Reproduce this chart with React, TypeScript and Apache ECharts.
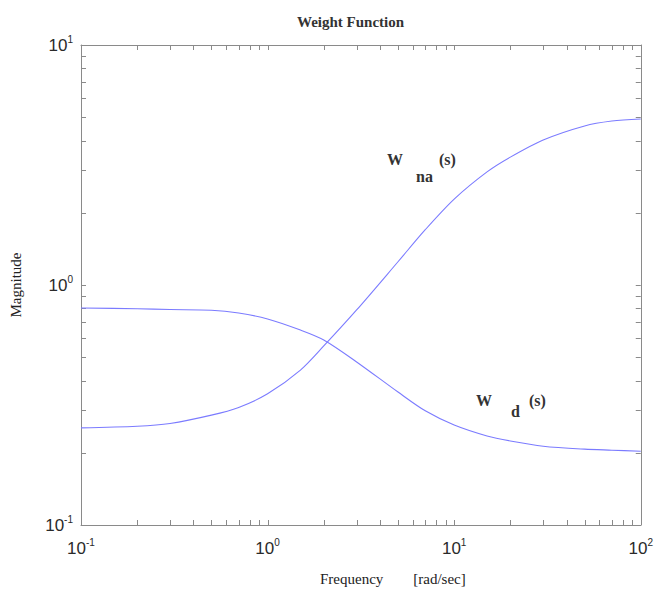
import React, { useEffect, useRef } from 'react';
import * as echarts from 'echarts';

// Frequency points (rad/sec) and magnitudes
const frequency = [0.1, 0.2, 0.3, 0.5, 0.7, 1, 1.5, 2, 3, 5, 7, 10, 15, 20, 30, 50, 70, 100];
const wNa = [0.254, 0.258, 0.265, 0.287, 0.309, 0.352, 0.442, 0.557, 0.787, 1.25, 1.7, 2.28, 2.96, 3.41, 4.02, 4.6, 4.82, 4.92];
const wD = [0.802, 0.796, 0.79, 0.785, 0.764, 0.722, 0.649, 0.59, 0.478, 0.358, 0.299, 0.261, 0.235, 0.224, 0.213, 0.207, 0.205, 0.203];

const xTicks = [0.1, 0.2, 0.3, 0.4, 0.5, 0.6, 0.7, 0.8, 0.9, 1, 2, 3, 4, 5, 6, 7, 8, 9, 10, 20, 30, 40, 50, 60, 70, 80, 90, 100];
const yTicks = [0.1, 0.2, 0.3, 0.4, 0.5, 0.6, 0.7, 0.8, 0.9, 1, 2, 3, 4, 5, 6, 7, 8, 9, 10];

const AXIS_COLOR = '#8a8a8a';
const LINE_COLOR = '#7b7bff';
const SERIF = '"Liberation Serif", "Times New Roman", serif';
const SANS = '"Liberation Sans", Arial, sans-serif';
const TICK_LEN = 5;

const labelRich = {
  b: { fontSize: 17, fontFamily: SANS, color: '#2a2a2a', lineHeight: 22 },
  sup: { fontSize: 10, fontFamily: SANS, color: '#2a2a2a', verticalAlign: 'top', lineHeight: 12 },
};

const fmtPow = (v: number) => `{b|10}{sup|${Math.round(Math.log10(v))}}`;

export default function App() {
  const ref = useRef<HTMLDivElement>(null);

  useEffect(() => {
    if (!ref.current) return;
    const chart = echarts.init(ref.current, undefined, { renderer: 'svg' });

    const baseAxis = {
      type: 'log' as const,
      logBase: 10,
      axisLine: { show: true, onZero: false, lineStyle: { color: AXIS_COLOR, width: 1 } },
      axisTick: { show: false },
      splitLine: { show: false },
      minorTick: { show: false },
    };

    const tickStyle = { stroke: AXIS_COLOR, lineWidth: 1 };

    const labelText = (text: string, x: number, y: number) => ({
      type: 'text',
      x,
      y,
      style: {
        text,
        fontFamily: SERIF,
        fontSize: 16,
        fontWeight: 'bold',
        fill: '#333',
        verticalAlign: 'middle',
      },
    });

    chart.setOption({
      animation: false,
      backgroundColor: '#ffffff',
      title: {
        text: 'Weight Function',
        left: 292,
        top: 9,
        textStyle: { fontFamily: SERIF, fontSize: 15, fontWeight: 'bold', color: '#333' },
      },
      grid: { left: 79, right: 14, top: 45, bottom: 69, containLabel: false },
      xAxis: [
        {
          ...baseAxis,
          position: 'bottom',
          min: 0.1,
          max: 100,
          axisLabel: { show: true, margin: 12, formatter: fmtPow, rich: labelRich },
          name: 'Frequency        [rad/sec]',
          nameLocation: 'middle',
          nameGap: 46,
          nameTextStyle: { fontFamily: SERIF, fontSize: 15, color: '#222', padding: [0, 0, 0, 64] },
        },
        {
          ...baseAxis,
          position: 'top',
          min: 0.1,
          max: 100,
          axisLabel: { show: false },
        },
      ],
      yAxis: [
        {
          ...baseAxis,
          position: 'left',
          min: 0.1,
          max: 10,
          axisLabel: { show: true, margin: 8, formatter: fmtPow, rich: labelRich },
          name: 'Magnitude',
          nameLocation: 'middle',
          nameRotate: 90,
          nameGap: 58,
          nameTextStyle: { fontFamily: SERIF, fontSize: 15, color: '#222' },
        },
        {
          ...baseAxis,
          position: 'right',
          min: 0.1,
          max: 10,
          axisLabel: { show: false },
        },
      ],
      series: [
        {
          name: 'W_na(s)',
          type: 'line',
          xAxisIndex: 0,
          yAxisIndex: 0,
          data: frequency.map((f, i) => [f, wNa[i]]),
          showSymbol: false,
          smooth: 0.3,
          lineStyle: { color: LINE_COLOR, width: 1.1 },
        },
        {
          name: 'W_d(s)',
          type: 'line',
          xAxisIndex: 0,
          yAxisIndex: 0,
          data: frequency.map((f, i) => [f, wD[i]]),
          showSymbol: false,
          smooth: 0.3,
          lineStyle: { color: LINE_COLOR, width: 1.1 },
        },
        {
          name: 'xTicks',
          type: 'custom',
          xAxisIndex: 0,
          yAxisIndex: 0,
          silent: true,
          clip: false,
          data: xTicks.map((v) => [v, 1]),
          encode: { x: 0, y: 1 },
          renderItem: (params: any, api: any) => {
            const cs = params.coordSys;
            const px = Math.round(api.coord([api.value(0), 1])[0]) + 0.5;
            const bottom = cs.y + cs.height;
            const top = cs.y;
            return {
              type: 'group',
              children: [
                { type: 'line', shape: { x1: px, y1: bottom, x2: px, y2: bottom - TICK_LEN }, style: tickStyle },
                { type: 'line', shape: { x1: px, y1: top, x2: px, y2: top + TICK_LEN }, style: tickStyle },
              ],
            };
          },
        },
        {
          name: 'yTicks',
          type: 'custom',
          xAxisIndex: 0,
          yAxisIndex: 0,
          silent: true,
          clip: false,
          data: yTicks.map((v) => [1, v]),
          encode: { x: 0, y: 1 },
          renderItem: (params: any, api: any) => {
            const cs = params.coordSys;
            const py = Math.round(api.coord([1, api.value(1)])[1]) + 0.5;
            const left = cs.x;
            const right = cs.x + cs.width;
            return {
              type: 'group',
              children: [
                { type: 'line', shape: { x1: left, y1: py, x2: left + TICK_LEN, y2: py }, style: tickStyle },
                { type: 'line', shape: { x1: right, y1: py, x2: right - TICK_LEN, y2: py }, style: tickStyle },
              ],
            };
          },
        },
      ],
      graphic: [
        labelText('W', 387, 159),
        labelText('na', 416, 176),
        labelText('(s)', 439, 159),
        labelText('W', 476, 400),
        labelText('d', 511, 411),
        labelText('(s)', 529, 400),
      ],
    });

    return () => chart.dispose();
  }, []);

  return (
    <div
      ref={ref}
      style={{ position: 'fixed', left: 0, top: 0, width: 656, height: 594, background: '#fff' }}
    />
  );
}
